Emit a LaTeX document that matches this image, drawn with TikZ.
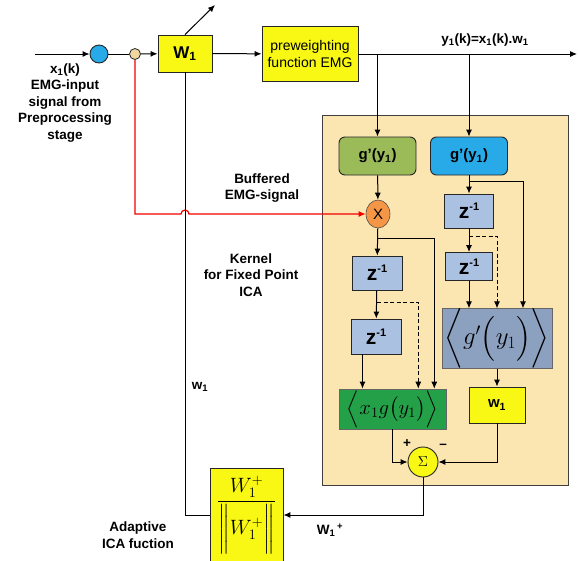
\documentclass[tikz,border=0pt]{standalone}
\usepackage{amsmath}
\usepackage{fontspec}
\setmainfont{Liberation Sans}
\setsansfont{Liberation Sans}
\usetikzlibrary{arrows.meta,positioning,calc,shapes.geometric}
\definecolor{ylw}{RGB}{248,248,20}
\definecolor{kerntan}{RGB}{251,229,177}
\definecolor{zblue}{RGB}{170,193,226}
\definecolor{gbarblue}{RGB}{140,160,192}
\definecolor{olivegr}{RGB}{155,187,89}
\definecolor{skyb}{RGB}{40,170,232}
\definecolor{xggreen}{RGB}{36,160,72}
\definecolor{mulor}{RGB}{245,150,70}
\definecolor{tapc}{RGB}{240,215,160}
\providecommand{\sub}[1]{\textsubscript{#1}}
\providecommand{\zinv}{z\raisebox{8pt}{\fontsize{11}{11}\selectfont -1}}
\tikzset{
  blk/.style   ={draw=black!85,line width=.9pt,align=center,inner sep=0pt,
                 font=\fontsize{14}{16}\selectfont\bfseries},
  ybox/.style  ={blk,fill=ylw},
  gbox/.style  ={blk,rounded corners=6pt,minimum width=77pt,minimum height=38pt,
                 font=\fontsize{15}{17}\selectfont\bfseries},
  zbox/.style  ={blk,fill=zblue,font=\fontsize{21}{22}\selectfont\bfseries},
  mbox/.style  ={draw=black!60,line width=.6pt,align=center,inner sep=0pt,
                 font=\fontsize{22}{24}\selectfont},
  kern/.style  ={draw=black!75,line width=1pt,fill=kerntan,
                 minimum width=246pt,minimum height=370pt},
  arr/.style   ={-{Latex[length=7pt,width=6pt]},line width=1pt},
  darr/.style  ={arr,dashed,dash pattern=on 4pt off 2.5pt},
  rarr/.style  ={-{Latex[length=7pt,width=6pt]},line width=1.2pt,draw=red!95!black},
  plain/.style ={line width=1pt},
  lbl/.style   ={align=center,font=\fontsize{13.5}{16.5}\selectfont\bfseries},
}

\begin{document}
\begin{tikzpicture}[x=1pt,y=-1pt]
  \useasboundingbox (0,0) rectangle (578,560);

  % ---------- kernel background ----------
  \node[kern] (kern) at (445,300) {};

  % ---------- input path ----------
  \coordinate (src) at (35,54);
  \node[circle,draw=black!85,line width=.9pt,fill=skyb,minimum size=18pt,inner sep=0pt] (in) at (99,54) {};
  \node[circle,draw=black!85,line width=.8pt,fill=tapc,minimum size=11pt,inner sep=0pt] (tap) at (135,54) {};
  \node[ybox,minimum width=54pt,minimum height=37pt,font=\fontsize{17}{18}\selectfont\bfseries] (wa) at (185,53.5) {W\sub{1}};
  \node[ybox,minimum width=96pt,minimum height=55pt,font=\fontsize{14}{16.5}\selectfont] (pre) at (310,54)
    {preweighting\\function EMG};
  \coordinate (out) at (577,54);
  \coordinate (wtip) at (215,5);

  % ---------- kernel: left column ----------
  \node[gbox,fill=olivegr] (gA) at (377.5,156) {g'(y\sub{1})};
  \node[ellipse,draw=black!70,line width=.6pt,fill=mulor,minimum width=24pt,minimum height=28pt,
        inner sep=0pt,font=\fontsize{15}{16}\selectfont] (mul) at (378,214) {X};
  \node[zbox,minimum width=50pt,minimum height=34pt] (zA) at (377,273) {\zinv};
  \node[zbox,minimum width=50pt,minimum height=35pt] (zB) at (376,336.5) {\zinv};
  \node[mbox,fill=xggreen,minimum width=107pt,minimum height=40pt] (xg) at (392.5,409)
    {$\Bigl\langle x_1 g\bigl(y_1\bigr)\Bigr\rangle$};

  % ---------- kernel: right column ----------
  \node[gbox,fill=skyb] (gB) at (469,156) {g'(y\sub{1})};
  \node[zbox,minimum width=49pt,minimum height=34pt] (zC) at (469,211) {\zinv};
  \node[zbox,minimum width=47pt,minimum height=28pt] (zD) at (469,266.5) {\zinv};
  \node[mbox,fill=gbarblue,minimum width=110pt,minimum height=53pt,font=\fontsize{24}{26}\selectfont] (gbar) at (497,338.5)
    {$\biggl\langle g'\Bigl(y_1\Bigr)\biggr\rangle$};
  \node[ybox,minimum width=56pt,minimum height=36pt,font=\fontsize{15}{17}\selectfont\bfseries] (wB) at (497,405) {w\sub{1}};
  \node[circle,draw=black!85,line width=.9pt,fill=ylw,minimum size=30pt,inner sep=0pt,
        font=\fontsize{15}{16}\selectfont] (sum) at (423,462) {$\Sigma$};

  % ---------- normalisation ----------
  \node[ybox,minimum width=73pt,minimum height=94pt,font=\fontsize{22}{26}\selectfont] (norm) at (246.5,515)
    {$\dfrac{W_1^{+}}{\biggl\|W_1^{+}\biggr\|}$};

  % ---------- connectors ----------
  \draw[arr] (src) -- (in);
  \draw[plain] (in) -- (tap);
  \draw[arr] (tap) -- (wa);
  \draw[arr] (wa.north) -- (wtip);
  \draw[arr] (wa) -- (pre);
  \draw[arr] (pre) -- (out);
  \draw[arr] (gA |- pre) -- (gA);
  \draw[arr] (gB |- pre) -- (gB);

  \coordinate (hopL) at ($(wa |- mul)+(-4,0)$);
  \draw[rarr] (tap) -- (tap |- mul) -- (hopL) arc (180:360:4) -- (mul);

  \draw[arr] (gA) -- (mul);
  \draw[arr] (mul) -- (zA);
  \coordinate (bA) at (378,238);
  \draw[arr] (bA) -| ([xshift=-12pt]xg.north east);
  \draw[arr] (zA) -- (zB);
  \coordinate (bB) at (377,302);
  \draw[darr] (bB) -| ([xshift=-28pt]xg.north east);
  \draw[arr] ([xshift=-13.5pt]zB.south) -- ([xshift=-30pt]xg.north);
  \draw[arr] (xg) |- (sum);

  \draw[arr] (gB) -- (zC);
  \coordinate (bC) at (469,181);
  \draw[arr] (bC) -| ([xshift=26pt]gbar.north);
  \draw[arr] (zC) -- (zD);
  \coordinate (bD) at (469,236);
  \draw[darr] (bD) -| (gbar.north);
  \draw[arr] (zD) -- (zD |- gbar.north);
  \draw[arr] (gbar) -- (wB);
  \draw[arr] (wB) |- (sum);

  \draw[arr] (sum) |- (norm);
  \draw[plain] (norm) -| (wa);

  % ---------- labels ----------
  \node[lbl] (xlbl) at (65,103) {x\sub{1}(k)\\EMG-input\\signal from\\Preprocessing\\stage};
  \node[lbl] (ylbl) at (485,40) {y\sub{1}(k)=x\sub{1}(k).w\sub{1}};
  \node[lbl] (buf) at (262,188) {Buffered\\EMG-signal};
  \node[lbl] (klbl) at (251,275) {Kernel\\for Fixed Point\\ICA};
  \node[lbl] (wlbl) at (200,387) {w\sub{1}};
  \node[lbl] (wplbl) at (330,530) {W\sub{1}\textsuperscript{\,+}};
  \node[lbl] (alb) at (138,535) {Adaptive\\ICA fuction};
  \node[lbl] (plus) at (407,444) {+};
  \node[lbl] (minus) at (443,446) {\textendash};

\end{tikzpicture}
\end{document}
